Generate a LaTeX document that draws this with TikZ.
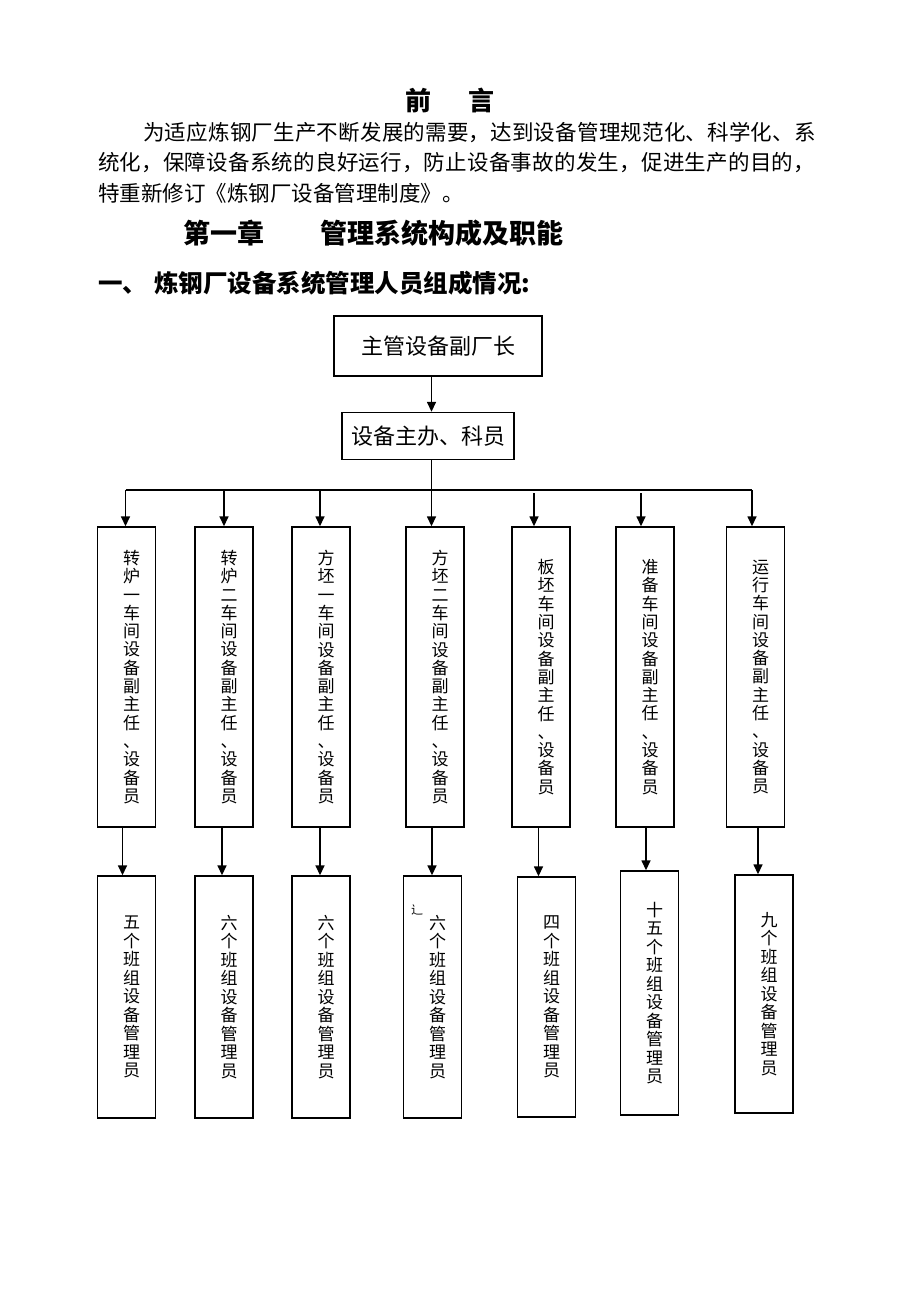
\documentclass[tikz,border=0pt]{standalone}
\usepackage{fontspec}
\usetikzlibrary{arrows.meta}
\newfontfamily\cjk{Noto Sans CJK SC}
\XeTeXlinebreaklocale "zh"
\XeTeXlinebreakskip=0pt plus 2pt

\begin{document}
\begin{tikzpicture}[x=1pt,y=-1pt,
    para/.style={anchor=west,inner sep=0pt,font=\cjk\fontsize{21.5}{22}\selectfont},
    head/.style={inner sep=0pt,font=\cjk\bfseries\fontsize{#1}{#1}\selectfont},
    box/.style={draw,line width=1.4pt,inner sep=0pt,font=\cjk\fontsize{22}{24}\selectfont},
    vbox/.style={draw,line width=1.4pt,inner sep=0pt,minimum width=58pt},
    vlab/.style={inner sep=0pt,align=center,font=\cjk\fontsize{17}{#1}\selectfont},
    arr/.style={line width=1.5pt,-{Triangle[length=10pt,width=9pt]}}]
    \useasboundingbox (0,0) rectangle (920,1302);
    % preface
    \node[head=26] (title) at (450,100) {前\hspace{1.4em}言};
    \node[para,text width=677pt] (p1) at (143,133) {\noindent\parfillskip=0pt\relax 为适应炼钢厂生产不断发展的需要，达到设备管理规范化、科学化、系\par};
    \node[para,text width=722pt] (p2) at (98,163) {\noindent\parfillskip=0pt\relax 统化，保障设备系统的良好运行，防止设备事故的发生，促进生产的目的，\par};
    \node[para] (p3) at (98,193) {特重新修订《炼钢厂设备管理制度》。};
    \node[head=27,anchor=west] (chap) at (183,233) {第一章\hspace{56pt}管理系统构成及职能};
    \node[head=24.5,anchor=west] (sec) at (98,283) {一、\hspace{7pt}炼钢厂设备系统管理人员组成情况:};
    % top of the chart
    \node[box,minimum width=208pt,minimum height=60pt] (chief) at (438,346) {主管设备副厂长};
    \node[box,minimum width=172pt,minimum height=47pt] (office) at (428,436) {设备主办、科员};
    \coordinate (spine) at (431.5,0);
    \coordinate (busL) at (125.5,490);
    \coordinate (busR) at (752,490);
    \draw[arr] (chief.south -| spine) -- (office.north -| spine);
    \draw[line width=1.4pt] (office.south -| spine) -- (busL -| spine);
    \draw[line width=1.4pt] (busL) -- (busR);
    % workshop boxes
    \foreach \i/\bx/\ax/\ay/\lab in {
        1/126.5/125.5/490/{转\\炉\\一\\车\\间\\设\\备\\副\\主\\任\\、\\设\\备\\员},
        2/224/224/490/{转\\炉\\二\\车\\间\\设\\备\\副\\主\\任\\、\\设\\备\\员},
        3/321/320/490/{方\\坯\\一\\车\\间\\设\\备\\副\\主\\任\\、\\设\\备\\员},
        4/435/431.5/490/{方\\坯\\二\\车\\间\\设\\备\\副\\主\\任\\、\\设\\备\\员},
        5/541/534/493/{板\\坯\\车\\间\\设\\备\\副\\主\\任\\、\\设\\备\\员},
        6/645/641/493/{准\\备\\车\\间\\设\\备\\副\\主\\任\\、\\设\\备\\员},
        7/755.5/752/490/{运\\行\\车\\间\\设\\备\\副\\主\\任\\、\\设\\备\\员}}{
        \node[vbox,minimum height=300pt] (m\i) at (\bx,677) {};
        \node[vlab=18.3] (ml\i) at ([xshift=5pt]m\i.center) {\lab};
        \coordinate (t\i) at (\ax,\ay);
        \draw[arr] (t\i) -- (t\i |- m\i.north);
    }
    % team boxes
    \foreach \i/\bx/\by/\bh/\ax/\lab in {
        1/126.5/997/242/122.5/{五\\个\\班\\组\\设\\备\\管\\理\\员},
        2/224/997/242/222/{六\\个\\班\\组\\设\\备\\管\\理\\员},
        3/321/997/242/320/{六\\个\\班\\组\\设\\备\\管\\理\\员},
        4/432.5/997/242/432/{六\\个\\班\\组\\设\\备\\管\\理\\员},
        5/546.5/997/240/538.5/{四\\个\\班\\组\\设\\备\\管\\理\\员},
        6/649.5/993/244/646/{十\\五\\个\\班\\组\\设\\备\\管\\理\\员},
        7/764/994/238/758/{九\\个\\班\\组\\设\\备\\管\\理\\员}}{
        \node[vbox,minimum height=\bh pt] (b\i) at (\bx,\by) {};
        \node[vlab=18.5] (bl\i) at ([xshift=5pt]b\i.center) {\lab};
        \coordinate (d\i) at (\ax,0);
        \draw[arr] (d\i |- m\i.south) -- (d\i |- b\i.north);
    }
    \node[inner sep=0pt,font=\cjk\fontsize{12}{12}\selectfont] (stray) at (417,910) {辶};
\end{tikzpicture}
\end{document}
